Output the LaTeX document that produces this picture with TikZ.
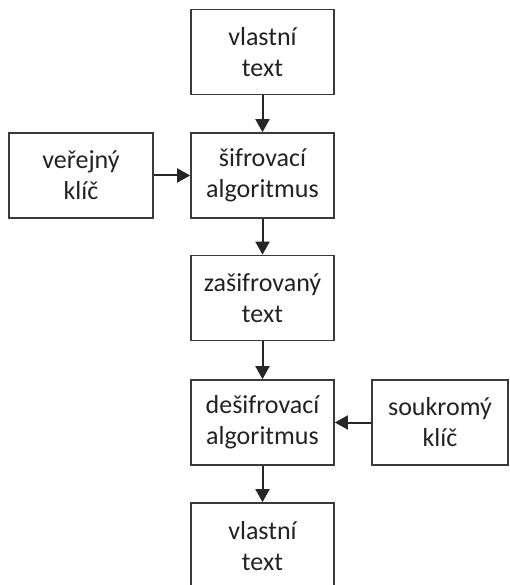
\documentclass[tikz,border=0pt]{standalone}
\usepackage{fontspec}
\setmainfont{Carlito}
\usetikzlibrary{arrows.meta}
\definecolor{boxline}{HTML}{3A3A3A}
\definecolor{txt}{HTML}{222222}
\tikzset{
  x=1pt, y=-1pt,
  block/.style={draw=boxline, line width=1.7pt, minimum width=143pt, minimum height=85pt,
    inner sep=0pt, align=center, text=txt,
    font=\fontsize{26}{31}\selectfont},
  link/.style={draw=black!85, line width=2pt, -{Triangle[length=13pt,width=14pt]}}
}
\begin{document}
\begin{tikzpicture}
\useasboundingbox (0,0) rectangle (509,585);
\clip (0,0) rectangle (509,585);
% main chain of steps
\node[block] (plainA) at (262.5,52) {vlastní\\text};
\node[block] (enc) at (262.5,175.5) {šifrovací\\algoritmus};
\node[block] (cipher) at (262.5,298) {zašifrovaný\\text};
\node[block] (dec) at (262.5,422.5) {dešifrovací\\algoritmus};
\node[block, minimum height=86pt] (plainB) at (262.5,546) {vlastní\\text};
% keys
\node[block, minimum width=144pt] (pub) at (81,175.5) {veřejný\\klíč};
\node[block, minimum width=136pt] (priv) at (440,422.5) {soukromý\\klíč};
% connectors
\draw[link] (plainA) -- (enc);
\draw[link] (pub) -- (enc);
\draw[link] (enc) -- (cipher);
\draw[link] (cipher) -- (dec);
\draw[link] (priv) -- (dec);
\draw[link] (dec) -- (plainB);
\end{tikzpicture}
\end{document}
